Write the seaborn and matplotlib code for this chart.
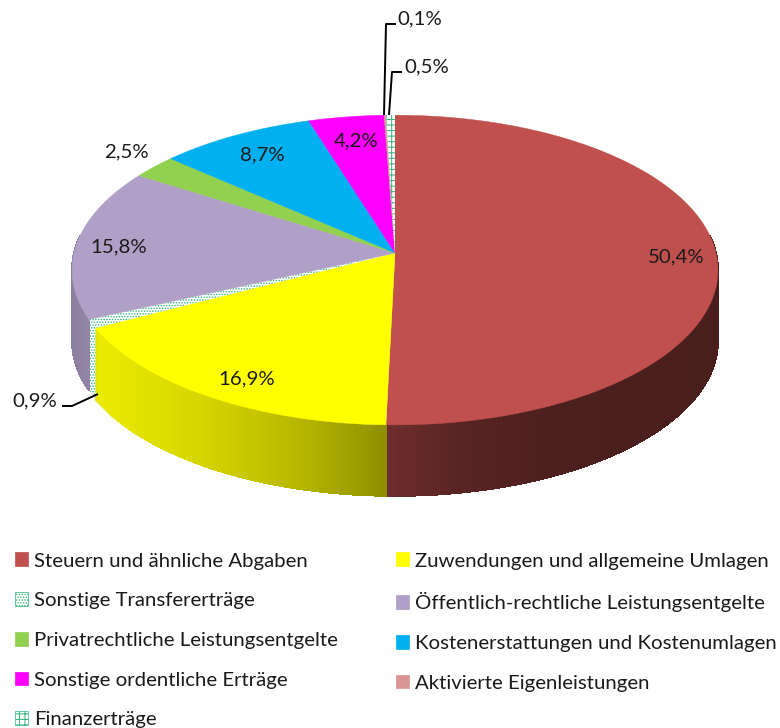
import numpy as np
import matplotlib
matplotlib.use('Agg')
import matplotlib.pyplot as plt
from matplotlib.patches import Patch
import seaborn as sns

# Data
categories = ['Steuern und ähnliche Abgaben', 'Zuwendungen und allgemeine Umlagen',
              'Sonstige Transfererträge', 'Öffentlich-rechtliche Leistungsentgelte',
              'Privatrechtliche Leistungsentgelte', 'Kostenerstattungen und Kostenumlagen',
              'Sonstige ordentliche Erträge', 'Aktivierte Eigenleistungen', 'Finanzerträge']
shares = [50.4, 16.9, 0.9, 15.8, 2.5, 8.7, 4.2, 0.1, 0.5]
share_labels = ['50,4%', '16,9%', '0,9%', '15,8%', '2,5%', '8,7%', '4,2%', '0,1%', '0,5%']
colors = ['#C0504D', '#FFFF00', '#FFFFFF', '#B09FC6', '#92D050', '#00B0F0', '#FF00FF', '#D99694', '#FFFFFF']
hatches = [None, None, '......', None, None, None, None, None, '+++']
hatch_green = '#2FB37C'

# Label positions in picture pixels (style, not data)
label_xy = [(676, 257), (247, 379), (35, 401), (119, 247), (126, 152),
            (262, 155), (356, 141), (420, 19), (427, 67)]
leaders = {2: [(98, 394), (72, 406), (62, 406)],
           7: [(384, 115), (386, 24), (396, 24)],
           8: [(389, 115), (392, 72), (402, 72)]}

sns.set_theme(style='white')
plt.rcParams['font.family'] = ['Lato', 'DejaVu Sans']
plt.rcParams['hatch.linewidth'] = 0.7

fig = plt.figure(figsize=(7.8, 7.28), dpi=100)
ax = fig.add_axes([0, 0, 1, 1])

# Let matplotlib work out the slice angles, then tilt them into perspective
wedges, _ = ax.pie(shares, startangle=90, counterclock=False)
angles = [(w.theta1, w.theta2) for w in wedges]
for w in wedges:
    w.remove()

CX, CY, RX, RY, K, DEPTH = 395, 253, 321, 153, 0.11, 71


def project(theta, r=1.0, drop=0):
    u = r * np.cos(np.radians(theta))
    v = r * np.sin(np.radians(theta))
    w = 1 + K * v
    return CX + RX * u / w, CY - RY * v / w + drop


def wall_shade(x):
    return np.interp(x, [72, 92, 100, 200, 300, 386, 388, 470, 550, 718],
                     [.80, .84, .92, .84, .72, .56, .57, .45, .40, .38])


def darker(col, f):
    return tuple(c * f for c in matplotlib.colors.to_rgb(col))


# Outer walls first, only the part facing the viewer
for (t1, t2), col, hatch in zip(angles, colors, hatches):
    steps = np.unique(np.clip(np.arange(np.floor(t1), np.ceil(t2) + 1, 0.5), t1, t2))
    steps = steps[np.sin(np.radians(steps)) < 0.12]
    if len(steps) < 2:
        continue
    if hatch:
        xt, yt = project(steps)
        xb, yb = project(steps, drop=DEPTH)
        ax.fill(np.r_[xt, xb[::-1]], np.r_[yt, yb[::-1]], facecolor=col,
                edgecolor=hatch_green, hatch=hatch, linewidth=0)
        continue
    for a, b in zip(steps[:-1], steps[1:]):
        xa, ya = project(a)
        xb, yb = project(b)
        shade = darker(col, wall_shade((xa + xb) / 2))
        # no antialiasing here, otherwise the strips show up as stripes
        ax.fill([xa, xb, xb, xa], [ya, yb, yb + DEPTH, ya + DEPTH],
                facecolor=shade, edgecolor=shade, linewidth=0.6, antialiased=False)

# Top surface
for (t1, t2), col, hatch in zip(angles, colors, hatches):
    arc = np.linspace(t1, t2, 200)
    x, y = project(arc)
    xs = np.r_[CX, x]
    ys = np.r_[CY, y]
    if hatch:
        ax.fill(xs, ys, facecolor=col, edgecolor=hatch_green, hatch=hatch, linewidth=0)
    else:
        ax.fill(xs, ys, facecolor=col, edgecolor=col, linewidth=0.3)

# Percent labels and leader lines
for txt, (lx, ly) in zip(share_labels, label_xy):
    ax.text(lx, ly, txt, ha='center', va='center', fontsize=14.7, color='#1a1a1a')
for pts in leaders.values():
    ax.plot(*zip(*pts), color='black', linewidth=1.4, solid_capstyle='butt')

ax.set_xlim(0, 780)
ax.set_ylim(728, 0)
ax.set_aspect('auto')
ax.axis('off')

# Legend, matplotlib fills columns first so reorder to read row by row
handles = [Patch(facecolor=c, edgecolor=hatch_green if h else c, hatch=h, linewidth=0.5)
           for c, h in zip(colors, hatches)]
order = [0, 2, 4, 6, 8, 1, 3, 5, 7]
fig.legend([handles[i] for i in order], [categories[i] for i in order],
           ncols=2, loc='upper left', bbox_to_anchor=(15 / 780, 1 - 552.5 / 728),
           frameon=False, fontsize=14.7, labelcolor='#1a1a1a',
           handlelength=0.66, handleheight=0.66, handletextpad=0.27,
           labelspacing=1.11, columnspacing=2.83, borderpad=0, borderaxespad=0)

fig.savefig('out.png', dpi=100)
